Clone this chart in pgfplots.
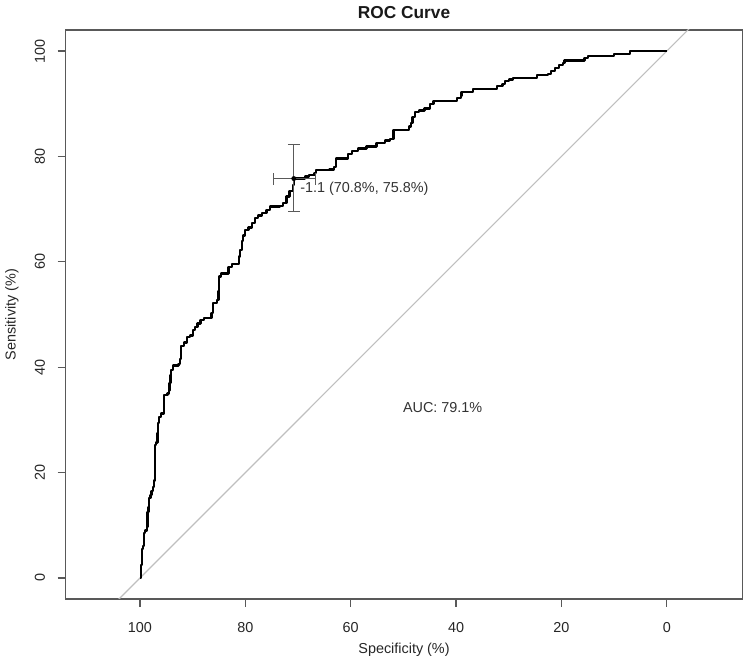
\documentclass[border=0pt]{standalone}
\usepackage{fontspec}
\setmainfont{Liberation Sans}
\usepackage{pgfplots}
\pgfplotsset{compat=1.18}
\begin{document}
\fontsize{14.4bp}{17bp}\selectfont
\begin{tikzpicture}
\path[use as bounding box] (-65.7bp,-66bp) rectangle (684.3bp,599bp);
\begin{axis}[
  scale only axis, width=677bp, height=569bp,
  at={(0,0)}, anchor=south west,
  xmin=-14.4, xmax=114.1, ymin=-4, ymax=104, x dir=reverse,
  axis line style={black!65, line width=1.2bp},
  xtick={0,20,40,60,80,100}, ytick={0,20,40,60,80,100},
  xtick pos=left, ytick pos=left,
  tick align=outside, major tick length=8bp,
  every tick/.style={black!65, line width=1.2bp},
  /pgf/number format/assume math mode=true,
  tick label style={font=\fontsize{14.4bp}{17bp}\selectfont, text=black!85},
  xticklabel style={anchor=center, yshift=-20.4bp, inner sep=0pt},
  yticklabel style={xshift=-17.7bp, rotate=90, anchor=center, inner sep=0pt},
  clip=true,
]
\addplot[black!25, line width=1.2bp] coordinates {(120,-20) (-20,120)};
\addplot[const plot, black, line width=2.3bp, line join=round] coordinates {
(100,0) (99.8,0.5) (99.8,2.5) (99.6,3) (99.6,5.5) (99.4,6) (99.3,8.5) (99.0,9.0)
(98.7,9.7) (98.6,12.5) (98.4,13.5) (98.3,15.2) (98.0,15.7) (97.8,16.5) (97.5,17.3)
(97.3,18.5) (97.2,19.5) (97.2,25.2) (96.9,25.7) (96.7,27.5) (96.6,29.4) (96.4,30.5)
(96.0,31.2) (95.5,31.4) (95.5,34.7) (94.8,35.0) (94.5,35.6) (94.4,37.0) (94.2,38.5)
(94.1,39.5) (93.7,40.3) (92.7,40.6) (92.4,41.5) (92.2,44.0) (91.6,44.7) (91.1,45.7)
(90.5,46.0) (90.0,47.0) (89.5,47.6) (89.1,48.3) (88.5,49.0) (87.9,49.3) (86.7,49.3)
(86.4,50.3) (86.1,52.2) (85.4,52.8) (85.1,54.5) (85.0,57.2) (84.6,57.8) (83.5,57.8)
(83.2,59.0) (82.5,59.6) (81.7,59.6) (81.2,61.0) (81.0,62.2) (80.7,64.0) (80.4,65.0)
(80.1,66.0) (79.4,66.5) (78.8,67.3) (78.2,68.3) (77.6,68.8) (76.9,69.3) (76.0,69.9)
(75.3,70.5) (73.4,70.6) (72.8,71.2) (72.2,72.4) (71.6,73.5) (71.0,74.6) (70.8,75.8)
(69.6,75.8) (68.7,76.2) (67.9,76.5) (66.9,76.9) (66.6,77.4) (64.0,77.5) (63.2,78.0)
(62.8,79.6) (60.8,79.6) (60.5,80.5) (59.8,81.0) (58.6,81.5) (57.0,81.9) (55.1,82.5)
(53.5,83.0) (52.6,83.3) (51.9,85.0) (49.7,85.0) (49.0,85.7) (48.6,86.4) (48.3,87.5)
(47.8,88.4) (47.0,88.7) (46.0,89.1) (45.0,89.9) (44.3,90.5) (40.2,90.5) (39.8,91.1)
(39.1,91.5) (39.0,92.2) (37.1,92.2) (36.8,92.8) (32.6,92.8) (32.2,93.4) (31.2,93.8)
(30.7,94.3) (30.0,94.6) (29.2,94.9) (25.0,94.9) (24.7,95.5) (22.5,95.6) (22.0,96.2)
(21.2,96.8) (20.5,97.3) (19.7,97.8) (19.4,98.2) (16.0,98.2) (15.6,98.7) (15.0,99.1)
(10.2,99.1) (10.0,99.5) (7.2,99.5) (7.0,100) (0,100)
};
\addplot[only marks, mark=*, mark size=2.2bp, black,
  error bars/.cd, x dir=both, x explicit, y dir=both, y explicit,
  error mark=|,
  error bar style={black!65, line width=1.1bp},
  error mark options={black!65, mark size=6bp, line width=1.1bp}]
  coordinates {(70.8,75.8) += (3.9,6.4) -= (4.1,6.2)};
\node[anchor=west, inner sep=0pt, text=black!80] at (axis cs:69.6,73.8) {-1.1 (70.8\%, 75.8\%)};
\node[anchor=west, inner sep=0pt, text=black!80] at (axis cs:50.1,32.3) {AUC: 79.1\%};
\end{axis}
\node[font=\bfseries\fontsize{17.3bp}{20bp}\selectfont, text=black!90] at (338.3bp,586bp) {ROC Curve};
\node[text=black!85] at (338.3bp,-51bp) {Specificity (\%)};
\node[text=black!85, rotate=90] at (-53.7bp,284.5bp) {Sensitivity (\%)};
\end{tikzpicture}
\end{document}
